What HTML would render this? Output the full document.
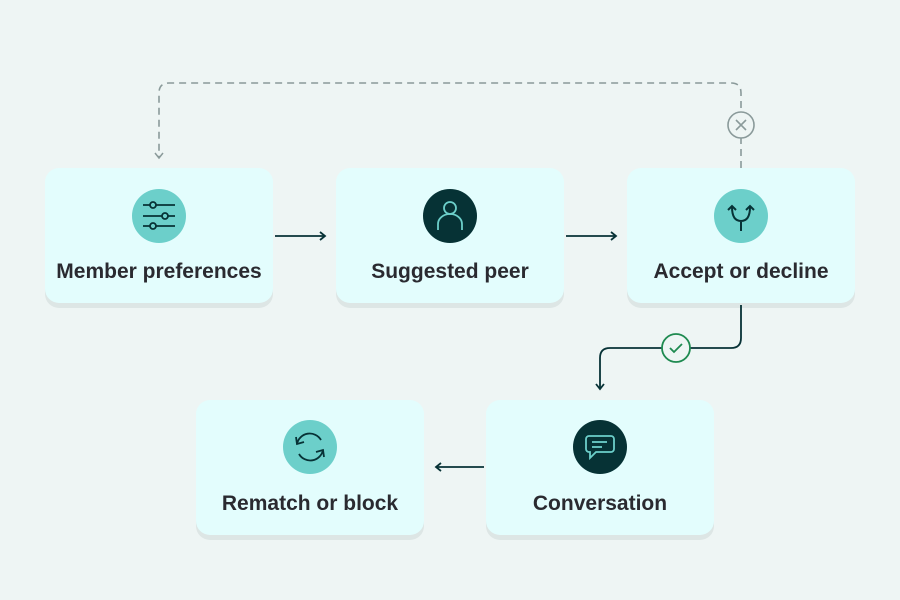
<!DOCTYPE html>
<html><head><meta charset="utf-8"><style>
html,body{margin:0;padding:0;background:#eef5f4;}
svg{display:block;}
text{font-family:"Liberation Sans",sans-serif;font-weight:bold;font-size:21px;fill:#2a2a30;text-anchor:middle;}
</style></head><body>
<svg width="900" height="600" viewBox="0 0 900 600" xmlns="http://www.w3.org/2000/svg">
<defs>
<marker id="ah" markerWidth="10" markerHeight="10" refX="8" refY="5" orient="auto" markerUnits="userSpaceOnUse">
<path d="M3,1 L8,5 L3,9" fill="none" stroke="#073236" stroke-width="1.8"/></marker>
<marker id="ahg" markerWidth="10" markerHeight="10" refX="8" refY="5" orient="auto" markerUnits="userSpaceOnUse">
<path d="M3,1 L8,5 L3,9" fill="none" stroke="#8a9a9a" stroke-width="1.5"/></marker>
</defs>
<rect width="900" height="600" fill="#eef5f4"/>
<g>
<rect x="45" y="173" width="228" height="135" rx="14" fill="#dde6e5"/>
<rect x="45" y="168" width="228" height="135" rx="14" fill="#e3fdfd"/>
<rect x="336" y="173" width="228" height="135" rx="14" fill="#dde6e5"/>
<rect x="336" y="168" width="228" height="135" rx="14" fill="#e3fdfd"/>
<rect x="627" y="173" width="228" height="135" rx="14" fill="#dde6e5"/>
<rect x="627" y="168" width="228" height="135" rx="14" fill="#e3fdfd"/>
<rect x="196" y="405" width="228" height="135" rx="14" fill="#dde6e5"/>
<rect x="196" y="400" width="228" height="135" rx="14" fill="#e3fdfd"/>
<rect x="486" y="405" width="228" height="135" rx="14" fill="#dde6e5"/>
<rect x="486" y="400" width="228" height="135" rx="14" fill="#e3fdfd"/>
</g>
<text x="159" y="278">Member preferences</text>
<text x="450" y="278">Suggested peer</text>
<text x="741" y="278">Accept or decline</text>
<text x="310" y="510">Rematch or block</text>
<text x="600" y="510">Conversation</text>
<circle cx="159" cy="216" r="27" fill="#6ccfca"/>
<g stroke="#073236" stroke-width="1.8" fill="none">
<line x1="143" y1="205" x2="175" y2="205"/><line x1="143" y1="216" x2="175" y2="216"/><line x1="143" y1="226" x2="175" y2="226"/>
<circle cx="153" cy="205" r="3" fill="#6ccfca"/><circle cx="165" cy="216" r="3" fill="#6ccfca"/><circle cx="153" cy="226" r="3" fill="#6ccfca"/>
</g>
<circle cx="450" cy="216" r="27" fill="#063235"/>
<g stroke="#6ccfca" stroke-width="1.8" fill="none">
<circle cx="450" cy="208" r="6"/>
<path d="M438,230 v-6 a12,10 0 0 1 24,0 v6"/>
</g>
<circle cx="741" cy="216" r="27" fill="#6ccfca"/>
<g stroke="#073236" stroke-width="2" fill="none">
<path d="M741,231 v-10 M741,221 q-9,0 -9,-14 M741,221 q9,0 9,-14"/>
<path d="M728,210 l4,-4 l4,4 M746,210 l4,-4 l4,4"/>
</g>
<circle cx="600" cy="447" r="27" fill="#063235"/>
<g stroke="#6ccfca" stroke-width="1.8" fill="none">
<path d="M589,436 h22 a3,3 0 0 1 3,3 v10 a3,3 0 0 1 -3,3 h-15 l-6,6 v-6 h-1 a3,3 0 0 1 -3,-3 v-10 a3,3 0 0 1 3,-3z"/>
<line x1="592" y1="442" x2="607" y2="442"/><line x1="592" y1="447" x2="602" y2="447"/>
</g>
<circle cx="310" cy="447" r="27" fill="#6ccfca"/>
<g stroke="#073236" stroke-width="1.8" fill="none">
<path d="M297,444 a13,13 0 0 1 24,-4"/><path d="M323,450 a13,13 0 0 1 -24,4"/>
<path d="M296,437 l1,7 l7,-2"/><path d="M324,457 l-1,-7 l-7,2"/>
</g>
<g stroke="#073236" stroke-width="1.8" fill="none">
<line x1="275" y1="236" x2="325" y2="236" marker-end="url(#ah)"/>
<line x1="566" y1="236" x2="616" y2="236" marker-end="url(#ah)"/>
<line x1="484" y1="467" x2="436" y2="467" marker-end="url(#ah)"/>
<path d="M741,305 V338 Q741,348 731,348 H610 Q600,348 600,358 V389" marker-end="url(#ah)"/>
</g>
<path d="M741,168 V93 Q741,83 731,83 H169 Q159,83 159,93 V158" stroke="#8a9a9a" stroke-width="1.6" fill="none" stroke-dasharray="7,5" marker-end="url(#ahg)"/>
<circle cx="741" cy="125" r="13" fill="#eef5f4" stroke="#8a9a9a" stroke-width="1.6"/>
<path d="M736,120 l10,10 M746,120 l-10,10" stroke="#8a9a9a" stroke-width="1.6"/>
<circle cx="676" cy="348" r="14" fill="#eef5f4" stroke="#1e8a50" stroke-width="1.8"/>
<path d="M670,348 l4,4 l8,-8" stroke="#1e8a50" stroke-width="1.8" fill="none"/>
</svg>
</body></html>
